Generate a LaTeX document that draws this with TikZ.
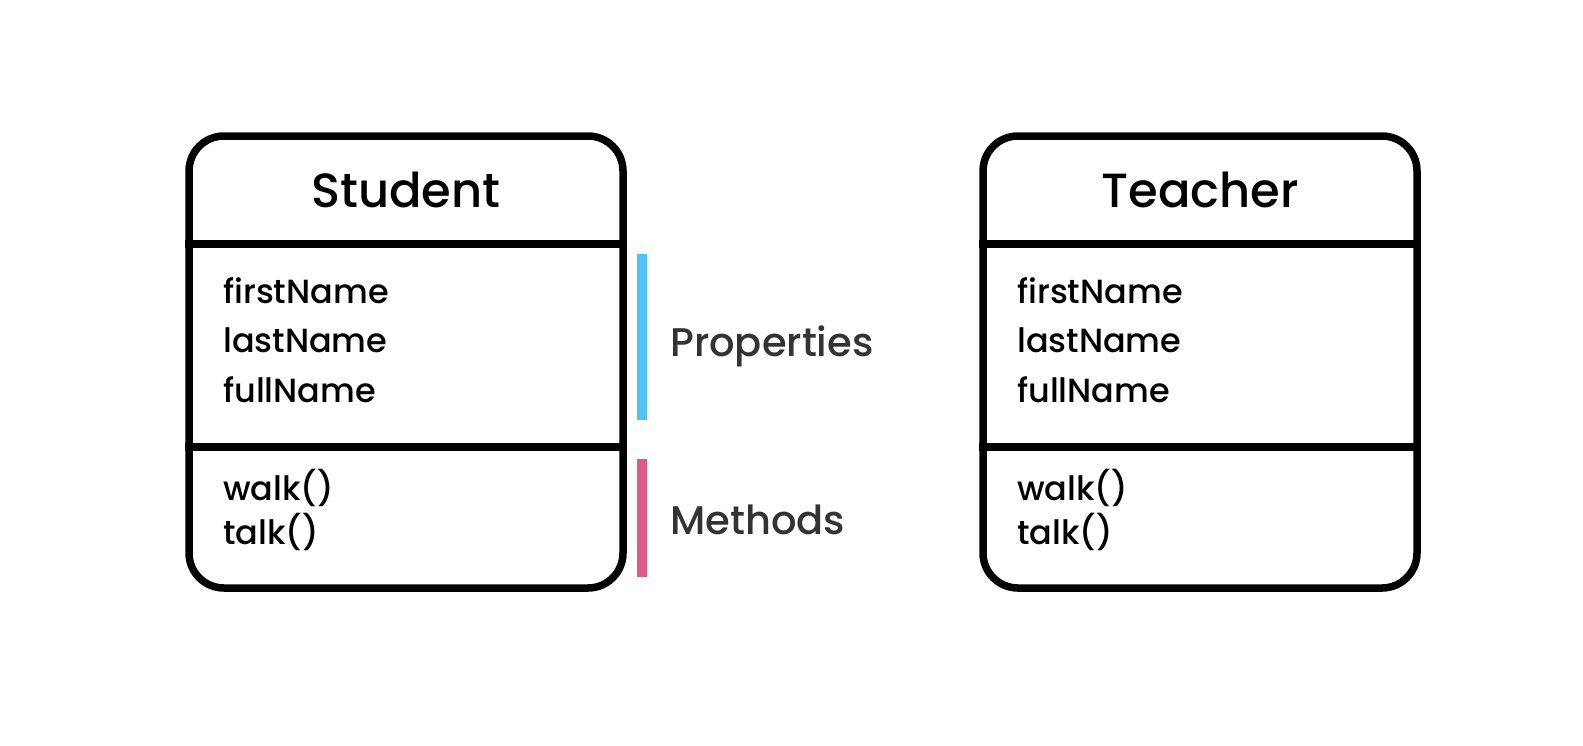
\documentclass[tikz,border=0pt]{standalone}
\usepackage{fontspec}
\setmainfont{Poppins}
\newfontfamily\popmed{Poppins Medium}
\definecolor{propblue}{HTML}{4FC3F7}
\definecolor{methpink}{HTML}{DE5A8A}
\definecolor{labgray}{HTML}{333333}
\tikzset{
  classbox/.style={draw=black, line width=7.5pt, rounded corners=35pt, minimum width=434pt, minimum height=452pt, inner sep=0pt},
  sepline/.style={line width=7.5pt},
  titletext/.style={anchor=base, inner sep=0pt, font=\popmed\fontsize{48}{48}\selectfont},
  itemtext/.style={anchor=base west, inner sep=0pt, font=\popmed\fontsize{33.5}{33.5}\selectfont},
  sidetext/.style={anchor=base west, inner sep=0pt, text=labgray, font=\popmed\fontsize{40}{40}\selectfont},
  bar/.style={line width=10pt},
}
\begin{document}
\begin{tikzpicture}[x=1pt,y=-1pt]
\useasboundingbox[fill=white] (0,0) rectangle (1583,745);
% Student
\node[classbox] (student) at (406,362) {};
\draw[sepline] (student.west |- 0,244) -- (student.east |- 0,244);
\draw[sepline] (student.west |- 0,447) -- (student.east |- 0,447);
\node[titletext] (stitle) at (406,207) {Student};
\node[itemtext] (sfirst) at (223,303) {firstName};
\node[itemtext] (slast) at (223,352) {lastName};
\node[itemtext] (sfull) at (223,402) {fullName};
\node[itemtext] (swalk) at (223,500) {walk()};
\node[itemtext] (stalk) at (223,544) {talk()};
% Teacher
\node[classbox] (teacher) at (1200,362) {};
\draw[sepline] (teacher.west |- 0,244) -- (teacher.east |- 0,244);
\draw[sepline] (teacher.west |- 0,447) -- (teacher.east |- 0,447);
\node[titletext] (ttitle) at (1200,207) {Teacher};
\node[itemtext] (tfirst) at (1017,303) {firstName};
\node[itemtext] (tlast) at (1017,352) {lastName};
\node[itemtext] (tfull) at (1017,402) {fullName};
\node[itemtext] (twalk) at (1017,500) {walk()};
\node[itemtext] (ttalk) at (1017,544) {talk()};
% side labels
\coordinate (pb1) at (642,254);
\coordinate (pb2) at (642,420);
\coordinate (mb1) at (642,459);
\coordinate (mb2) at (642,577);
\draw[bar, propblue] (pb1) -- (pb2);
\draw[bar, methpink] (mb1) -- (mb2);
\node[sidetext] (props) at (670,356) {Properties};
\node[sidetext] (meths) at (670,534) {Methods};
\end{tikzpicture}
\end{document}
